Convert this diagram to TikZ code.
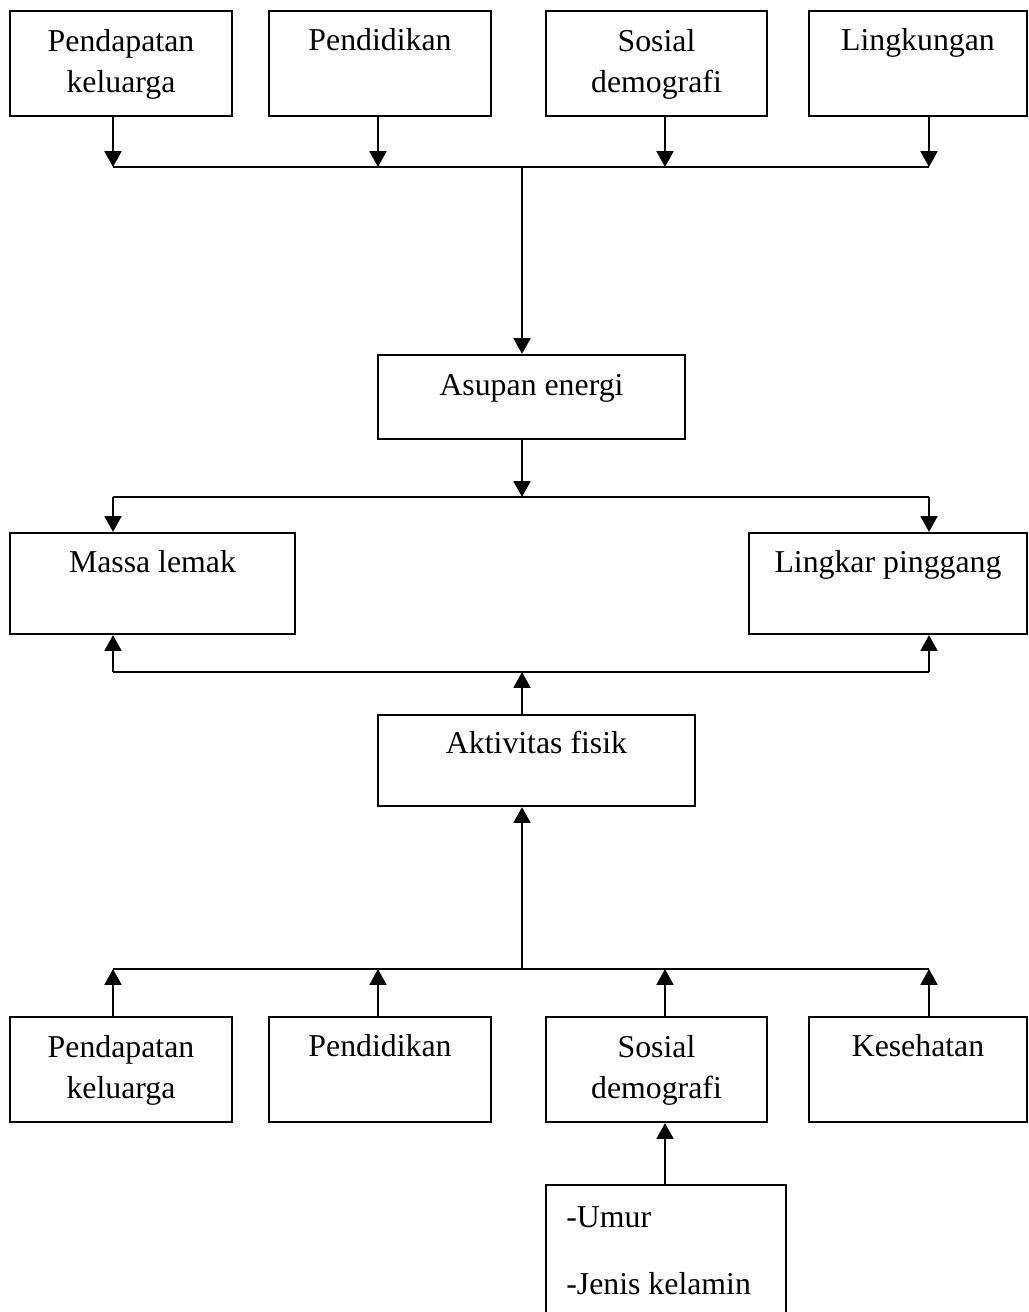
\documentclass[tikz,border=0pt]{standalone}
\usepackage{fontspec}
\setmainfont{Liberation Serif}
\usetikzlibrary{arrows.meta}

\begin{document}
\begin{tikzpicture}[x=0.02cm,y=-0.02cm,>={Triangle[length=9pt,width=9.5pt]}]
    \tikzstyle{box}=[draw=black, line width=1.25pt, rectangle, inner sep=0pt]
    \tikzstyle{txt}=[inner sep=0pt, align=center, anchor=base, font=\fontsize{18.1}{23.8}\selectfont]
    \tikzstyle{arr}=[->, line width=1.6pt]
    \tikzstyle{bus}=[line width=1.2pt]

    \useasboundingbox (0,0) rectangle (1028,1312);

    % top row
    \node[box, minimum width=4.44cm, minimum height=2.1cm] (pdp1) at (121,63.5)   {};
    \node[box, minimum width=4.44cm, minimum height=2.1cm] (pdd1) at (380,63.5)   {};
    \node[box, minimum width=4.42cm, minimum height=2.1cm] (sos1) at (656.5,63.5) {};
    \node[box, minimum width=4.36cm, minimum height=2.1cm] (lkg)  at (918,63.5)   {};
    \node[txt] (pdp1-t) at ([yshift=-1.66cm]pdp1.north) {Pendapatan\\keluarga};
    \node[txt] (pdd1-t) at ([yshift=-0.82cm]pdd1.north) {Pendidikan};
    \node[txt] (sos1-t) at ([yshift=-1.66cm]sos1.north) {Sosial\\demografi};
    \node[txt] (lkg-t)  at ([yshift=-0.82cm]lkg.north)  {Lingkungan};

    % middle
    \node[box, minimum width=6.14cm, minimum height=1.68cm] (asp) at (531.5,397)   {};
    \node[box, minimum width=5.7cm,  minimum height=2.02cm] (msl) at (152.5,583.5) {};
    \node[box, minimum width=5.56cm, minimum height=2.02cm] (lpg) at (888,583.5)   {};
    \node[box, minimum width=6.34cm, minimum height=1.82cm] (akt) at (536.5,760.5) {};
    \node[txt] (asp-t) at ([yshift=-0.84cm]asp.north) {Asupan energi};
    \node[txt] (msl-t) at ([yshift=-0.82cm]msl.north) {Massa lemak};
    \node[txt] (lpg-t) at ([yshift=-0.82cm]lpg.north) {Lingkar pinggang};
    \node[txt] (akt-t) at ([yshift=-0.80cm]akt.north) {Aktivitas fisik};

    % bottom row
    \node[box, minimum width=4.44cm, minimum height=2.1cm] (pdp2) at (121,1069.5)   {};
    \node[box, minimum width=4.44cm, minimum height=2.1cm] (pdd2) at (380,1069.5)   {};
    \node[box, minimum width=4.42cm, minimum height=2.1cm] (sos2) at (656.5,1069.5) {};
    \node[box, minimum width=4.36cm, minimum height=2.1cm] (kes)  at (918,1069.5)   {};
    \node[box, minimum width=4.8cm,  minimum height=2.8cm] (umr)  at (666,1255)     {};
    \node[txt] (pdp2-t) at ([yshift=-1.66cm]pdp2.north) {Pendapatan\\keluarga};
    \node[txt] (pdd2-t) at ([yshift=-0.82cm]pdd2.north) {Pendidikan};
    \node[txt] (sos2-t) at ([yshift=-1.66cm]sos2.north) {Sosial\\demografi};
    \node[txt] (kes-t)  at ([yshift=-0.82cm]kes.north)  {Kesehatan};
    \node[txt, align=left, anchor=base west] (umr-t) at (566,1294) {-Umur\\[14.2pt]-Jenis kelamin};

    % junctions
    \coordinate (a1) at (113,167);  \coordinate (a2) at (378,167);
    \coordinate (a3) at (665,167);  \coordinate (a4) at (929,167);
    \coordinate (ah) at (522,167);
    \coordinate (b1) at (113,497);  \coordinate (b2) at (929,497);
    \coordinate (bh) at (522,497);
    \coordinate (c1) at (113,672);  \coordinate (c2) at (929,672);
    \coordinate (ch) at (522,672);
    \coordinate (d1) at (113,969);  \coordinate (d2) at (378,969);
    \coordinate (d3) at (665,969);  \coordinate (d4) at (929,969);
    \coordinate (dh) at (522,969);

    \draw[arr] (pdp1.south -| a1) -- (a1);
    \draw[arr] (pdd1.south -| a2) -- (a2);
    \draw[arr] (sos1.south -| a3) -- (a3);
    \draw[arr] (lkg.south -| a4)  -- (a4);
    \draw[bus] (a1) -- (a4);
    \draw[arr] (ah) -- (ah |- asp.north);

    \draw[arr] (asp.south -| bh) -- (bh);
    \draw[bus] (b1) -- (b2);
    \draw[arr] (b1) -- (b1 |- msl.north);
    \draw[arr] (b2) -- (b2 |- lpg.north);

    \draw[bus] (c1) -- (c2);
    \draw[arr] (c1) -- (c1 |- msl.south);
    \draw[arr] (c2) -- (c2 |- lpg.south);
    \draw[arr] (akt.north -| ch) -- (ch);

    \draw[arr] (dh) -- (dh |- akt.south);
    \draw[bus] (d1) -- (d4);
    \draw[arr] (pdp2.north -| d1) -- (d1);
    \draw[arr] (pdd2.north -| d2) -- (d2);
    \draw[arr] (sos2.north -| d3) -- (d3);
    \draw[arr] (kes.north -| d4)  -- (d4);
    \draw[arr] (umr.north -| d3)  -- (sos2.south -| d3);
\end{tikzpicture}
\end{document}
